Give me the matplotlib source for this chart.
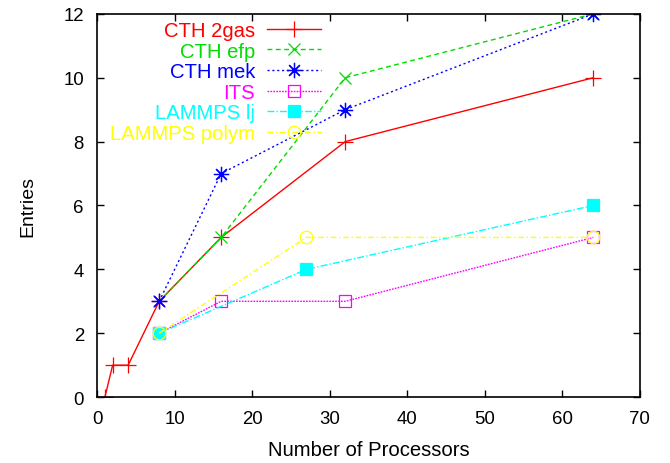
import matplotlib
matplotlib.use("Agg")
import matplotlib.pyplot as plt

plt.rcParams['font.family'] = ['Liberation Sans', 'DejaVu Sans']
plt.rcParams['font.size'] = 13.4

# entries per processor count, one run per code
cth_2gas_x = [1, 2, 4, 8, 16, 32, 64]
cth_2gas_y = [0, 1, 1, 3, 5, 8, 10]
cth_efp_x = [8, 16, 32, 64]
cth_efp_y = [3, 5, 10, 12]
cth_mek_x = [8, 16, 32, 64]
cth_mek_y = [3, 7, 9, 12]
its_x = [8, 16, 32, 64]
its_y = [2, 3, 3, 5]
lammps_lj_x = [8, 27, 64]
lammps_lj_y = [2, 4, 6]
lammps_polym_x = [8, 27, 64]
lammps_polym_y = [2, 5, 5]

fig = plt.figure(figsize=(6.7, 4.64), dpi=100)
ax = fig.add_axes([0.145, 0.142, 0.81, 0.826])

lw = 1.0
mew = 0.9
ax.plot(cth_2gas_x, cth_2gas_y, color='#ff0000', ls='-', lw=lw,
        marker='+', ms=11, mew=mew, label='CTH 2gas')
ax.plot(cth_efp_x, cth_efp_y, color='#00dd00', ls=(0, (3.5, 2.5)), lw=lw,
        marker='x', ms=9, mew=mew, label='CTH efp')
ax.plot(cth_mek_x, cth_mek_y, color='#0000ff', ls=(0, (1.5, 2)), lw=lw,
        marker=(8, 2, 0), ms=11, mew=mew, label='CTH mek')
ax.plot(its_x, its_y, color='#ff00ff', ls=(0, (1.2, 0.9)), lw=lw,
        marker='s', ms=9, mew=mew, mfc='none', label='ITS')
ax.plot(lammps_lj_x, lammps_lj_y, color='#00ffff', ls=(0, (5, 1.5, 1, 1.5)), lw=lw,
        marker='s', ms=9, mew=mew, label='LAMMPS lj')
ax.plot(lammps_polym_x, lammps_polym_y, color='#ffff00', ls=(0, (4, 2, 1, 2)), lw=lw,
        marker='o', ms=9, mew=mew, mfc='none', label='LAMMPS polym')

ax.set_xlim(0, 70)
ax.set_ylim(0, 12)
ax.set_xticks(range(0, 71, 10))
ax.set_yticks(range(0, 13, 2))
ax.tick_params(direction='in', length=5, width=1, top=True, right=True, pad=9.5)
for s in ax.spines.values():
    s.set_linewidth(1.2)

ax.set_xlabel('Number of Processors', fontsize=14.6, labelpad=9)
ax.set_ylabel('Entries', fontsize=14, labelpad=19)

ax.legend(loc='upper right', bbox_to_anchor=(0.437, 1.016), frameon=False,
          markerfirst=False, labelcolor='linecolor', fontsize=14.6,
          handlelength=2.66, labelspacing=0.08, borderpad=0.15,
          handletextpad=0.6)

fig.savefig('out.png', dpi=100)
